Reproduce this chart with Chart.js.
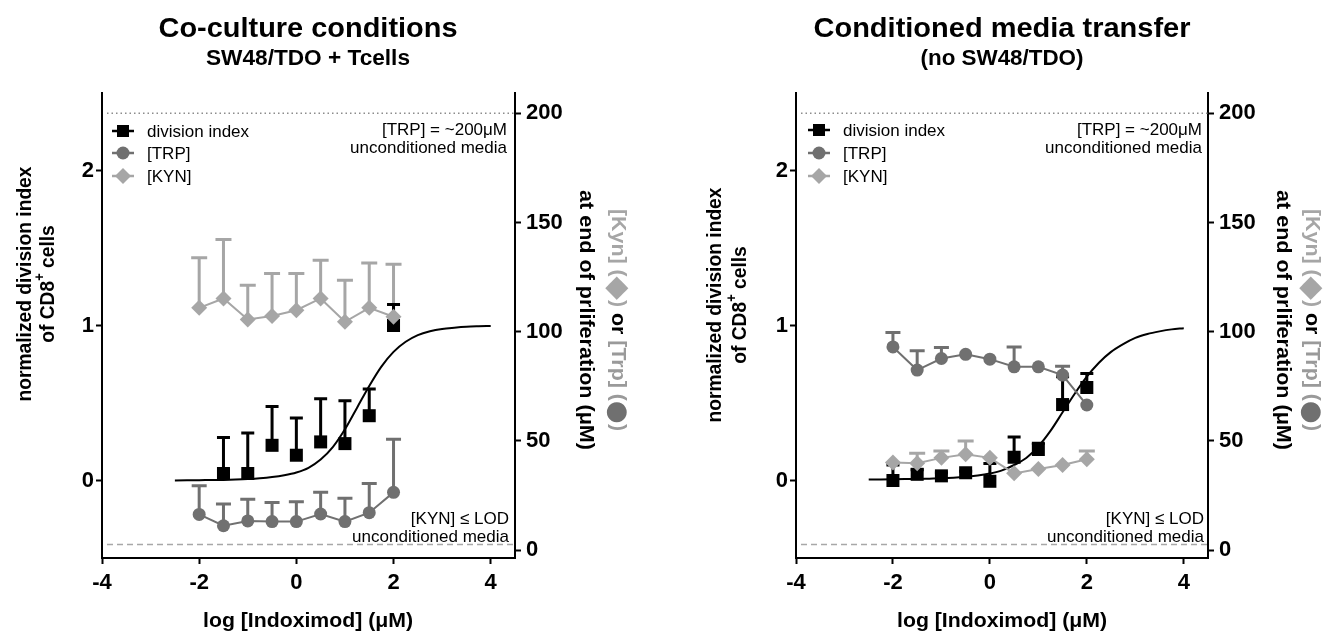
<!DOCTYPE html>
<html><head><meta charset="utf-8">
<script src="https://cdn.jsdelivr.net/npm/chart.js@4.4.1/dist/chart.umd.min.js"></script>
<style>
html,body{margin:0;padding:0;background:#fff;width:1325px;height:638px;overflow:hidden}
canvas{position:absolute;top:0}
</style></head><body>
<canvas id="c1" width="662" height="638" style="left:0;width:662px;height:638px"></canvas>
<canvas id="c2" width="663" height="638" style="left:662px;width:663px;height:638px"></canvas>
<script>
// ---------- DATA ----------
const xDoses = [-2, -1.5, -1, -0.5, 0, 0.5, 1, 1.5, 2];   // log [Indoximod] (uM)
const xTicks = [-4, -2, 0, 2, 4];
const yLeftTicks = [0, 1, 2];
const yRightTicks = [0, 50, 100, 150, 200];
const TRP_UNCONDITIONED = 200;   // uM, dotted reference line
const KYN_LOD = 2.5;             // uM, dashed reference line

// Co-culture conditions (SW48/TDO + Tcells)
const coDiv      = [null, 0.045, 0.045, 0.227, 0.163, 0.249, 0.238, 0.418, 1.0];
const coDivTop   = [null, 0.278, 0.307, 0.478, 0.403, 0.527, 0.514, 0.590, 1.136];
const coTrp      = [16.3, 11.1, 13.3, 13.0, 13.0, 16.5, 13.0, 17.1, 26.4];
const coTrpTop   = [29.4, 21.1, 23.2, 21.8, 22.1, 26.4, 23.7, 30.5, 50.7];
const coKyn      = [110.9, 115.2, 105.6, 107.2, 109.8, 115.2, 104.5, 110.9, 106.8];
const coKynTop   = [133.8, 142.2, 121.3, 126.6, 126.6, 132.7, 123.6, 131.5, 130.9];

// Conditioned media transfer (no SW48/TDO)
const cmDiv      = [0.0, 0.04, 0.03, 0.05, -0.005, 0.15, 0.20, 0.49, 0.60];
const cmDivTop   = [0.10, 0.07, 0.05, 0.06, 0.11, 0.28, 0.24, 0.67, 0.69];
const cmTrp      = [93.0, 82.4, 87.7, 89.6, 87.4, 83.9, 83.9, 80.1, 66.4];
const cmTrpTop   = [99.6, 91.2, 92.8, null, null, 93.0, null, 84.2, null];
const cmKyn      = [40.1, 39.7, 42.2, 43.9, 42.2, 35.1, 37.1, 38.9, 41.6];
const cmKynTop   = [null, 44.3, 45.4, 49.9, null, null, null, null, 45.4];

// fitted dose-response curves
const fitX  = [-2.5, -2.25, -2, -1.75, -1.5, -1.25, -1, -0.75, -0.5, -0.25, 0, 0.25, 0.5, 0.75, 1, 1.25, 1.5, 1.75, 2, 2.25, 2.5, 2.75, 3, 3.25, 3.5, 3.75, 4];
const coFit = [0.000, 0.001, 0.002, 0.003, 0.004, 0.006, 0.009, 0.014, 0.022, 0.034, 0.052, 0.082, 0.135, 0.215, 0.33, 0.47, 0.61, 0.735, 0.83, 0.895, 0.938, 0.963, 0.978, 0.986, 0.992, 0.995, 0.997];
const cmFit = [0.006, 0.007, 0.008, 0.009, 0.010, 0.012, 0.014, 0.018, 0.024, 0.032, 0.045, 0.065, 0.100, 0.145, 0.22, 0.32, 0.44, 0.56, 0.67, 0.76, 0.83, 0.88, 0.92, 0.945, 0.962, 0.975, 0.983];

// ---------- STYLE ----------
const F = '"Liberation Sans", Arial, Helvetica, sans-serif';
const C_DIV = '#000000', C_TRP = '#707070', C_KYN = '#a6a6a6';

function drawText(ctx, s, x, y, o) {
  ctx.save();
  ctx.font = o.font; ctx.fillStyle = o.color || '#000';
  ctx.textBaseline = o.baseline || 'alphabetic'; ctx.textAlign = 'left';
  const w = ctx.measureText(s).width;
  const sx = o.width ? o.width / w : 1;
  ctx.translate(x, y); ctx.scale(sx, 1);
  const a = o.align || 'left';
  ctx.fillText(s, a === 'center' ? -w / 2 : a === 'right' ? -w : 0, 0);
  ctx.restore();
}
// draws a rotated line made of styled segments, centred on (x,y); returns horizontal scale used
function drawRotSegs(ctx, segs, x, y, angle, width, scale) {
  ctx.save();
  ctx.textBaseline = 'middle'; ctx.textAlign = 'left';
  const ws = segs.map(s => { ctx.font = s.font; return ctx.measureText(s.t).width; });
  const total = ws.reduce((a, b) => a + b, 0);
  const sx = scale || (width ? width / total : 1);
  ctx.translate(x, y); ctx.rotate(angle); ctx.scale(sx, 1);
  let cx = -total / 2;
  segs.forEach((s, i) => { ctx.font = s.font; ctx.fillStyle = s.color || '#000'; ctx.fillText(s.t, cx, s.dy || 0); cx += ws[i]; });
  ctx.restore();
  return sx;
}
function marker(ctx, shape, x, y, r, color) {
  ctx.fillStyle = color; ctx.beginPath();
  if (shape === 'rect') ctx.rect(x - r, y - r, 2 * r, 2 * r);
  else if (shape === 'circle') ctx.arc(x, y, r, 0, Math.PI * 2);
  else { ctx.moveTo(x, y - r); ctx.lineTo(x + r, y); ctx.lineTo(x, y + r); ctx.lineTo(x - r, y); ctx.closePath(); }
  ctx.fill();
}
function drawErr(chart, vals, tops, axisId, color, cap) {
  const ctx = chart.ctx, xs = chart.scales.x, ys = chart.scales[axisId];
  ctx.save(); ctx.strokeStyle = color; ctx.lineWidth = 3; ctx.lineCap = 'butt';
  xDoses.forEach((xv, i) => {
    const v = vals[i], t = tops[i];
    if (v == null || t == null || t <= v) return;
    const px = xs.getPixelForValue(xv), p0 = ys.getPixelForValue(v), p1 = ys.getPixelForValue(t);
    ctx.beginPath();
    ctx.moveTo(px, p0); ctx.lineTo(px, p1 - 1.5);
    ctx.moveTo(px - cap / 2, p1); ctx.lineTo(px + cap / 2, p1);
    ctx.stroke();
  });
  ctx.restore();
}

function panelPlugin(P) {
  return {
    id: 'panelDeco',
    beforeDatasetsDraw(chart) {
      const ctx = chart.ctx, a = chart.chartArea, y2 = chart.scales.y2;
      ctx.save();
      ctx.lineWidth = 1.5;
      ctx.strokeStyle = '#8c8c8c'; ctx.setLineDash([1.5, 3]);
      let py = y2.getPixelForValue(TRP_UNCONDITIONED);
      ctx.beginPath(); ctx.moveTo(a.left + 5, py); ctx.lineTo(a.right, py); ctx.stroke();
      ctx.strokeStyle = '#a8a8a8'; ctx.setLineDash([6, 4]);
      py = y2.getPixelForValue(KYN_LOD);
      ctx.beginPath(); ctx.moveTo(a.left + 5, py); ctx.lineTo(a.right, py); ctx.stroke();
      ctx.restore();
      drawErr(chart, P.kyn, P.kynTop, 'y2', C_KYN, 16);
      drawErr(chart, P.trp, P.trpTop, 'y2', C_TRP, 15);
      drawErr(chart, P.div, P.divTop, 'y', C_DIV, 13);
    },
    afterDraw(chart) {
      const ctx = chart.ctx, o = P.off;
      // titles
      drawText(ctx, P.title, P.cx - o, 37, { font: 'bold 27px ' + F, align: 'center', width: P.titleW });
      drawText(ctx, P.sub, P.cx - o, 65, { font: 'bold 22px ' + F, align: 'center', width: P.subW });
      drawText(ctx, 'log [Indoximod] (μM)', P.cx - o, 627, { font: 'bold 21px ' + F, align: 'center', width: 210 });
      // left y title
      const s1 = drawRotSegs(ctx, [{ t: 'normalized division index', font: 'bold 21px ' + F }], P.yT1 - o, P.yTC, -Math.PI / 2, 235);
      drawRotSegs(ctx, [
        { t: 'of CD8', font: 'bold 21px ' + F },
        { t: '+', font: 'bold 14px ' + F, dy: -8 },
        { t: ' cells', font: 'bold 21px ' + F }
      ], P.yT2 - o, P.yTC, -Math.PI / 2, null, s1);
      // right y title
      drawRotSegs(ctx, [
        { t: '[Kyn] (', font: 'bold 21px ' + F, color: C_KYN },
        { t: '◆', font: 'bold 30px "DejaVu Sans", ' + F, color: C_KYN, dy: 1 },
        { t: ')', font: 'bold 21px ' + F, color: C_KYN },
        { t: ' or ', font: 'bold 21px ' + F, color: '#000' },
        { t: '[Trp] (', font: 'bold 21px ' + F, color: '#9a9a9a' },
        { t: '●', font: 'bold 26px "DejaVu Sans", ' + F, color: C_TRP, dy: 1 },
        { t: ')', font: 'bold 21px ' + F, color: '#9a9a9a' }
      ], P.y2T1 - o, P.y2TC, Math.PI / 2, 222);
      drawRotSegs(ctx, [{ t: 'at end of prliferation (μM)', font: 'bold 21px ' + F }], P.y2T2 - o, P.y2TC, Math.PI / 2, 260);
      // annotations
      const af = '17px ' + F;
      drawText(ctx, '[TRP] = ~200μM', P.annR - o, 135, { font: af, align: 'right' });
      drawText(ctx, 'unconditioned media', P.annR - o, 153, { font: af, align: 'right' });
      drawText(ctx, '[KYN] ≤ LOD', P.annR2 - o, 524, { font: af, align: 'right' });
      drawText(ctx, 'unconditioned media', P.annR2 - o, 542, { font: af, align: 'right' });
      // legend
      const rows = [['division index', 'rect', C_DIV, 6], ['[TRP]', 'circle', C_TRP, 6.5], ['[KYN]', 'diamond', C_KYN, 8]];
      rows.forEach((r, i) => {
        const x = P.legX - o, y = P.legY[i];
        ctx.save();
        ctx.strokeStyle = r[2]; ctx.lineWidth = 2.5;
        ctx.beginPath(); ctx.moveTo(x - 11, y); ctx.lineTo(x + 11, y); ctx.stroke();
        marker(ctx, r[1], x, y, r[3], r[2]);
        ctx.restore();
        drawText(ctx, r[0], P.legTX - o, y + 1, { font: af, baseline: 'middle' });
      });
    }
  };
}

function makeChart(P) {
  const pts = ys => xDoses.map((x, i) => ({ x, y: ys[i] })).filter(p => p.y != null);
  const tickFont = { family: F, size: 22, weight: 'bold' };
  const grid = { drawOnChartArea: false, drawTicks: true, tickLength: 6, tickWidth: 2, color: '#000' };
  const border = { display: true, color: '#000', width: 2 };
  new Chart(document.getElementById(P.id), {
    type: 'line',
    data: {
      datasets: [
        { label: '[KYN]', data: pts(P.kyn), yAxisID: 'y2', borderColor: C_KYN, backgroundColor: C_KYN, borderWidth: 2,
          pointStyle: 'rectRot', pointRadius: 8, pointBorderWidth: 0, order: 0 },
        { label: '[TRP]', data: pts(P.trp), yAxisID: 'y2', borderColor: C_TRP, backgroundColor: C_TRP, borderWidth: 2,
          pointStyle: 'circle', pointRadius: 6.5, pointBorderWidth: 0, order: 1 },
        { label: 'division index', data: pts(P.div), yAxisID: 'y', showLine: false, borderColor: C_DIV, backgroundColor: C_DIV,
          pointStyle: 'rect', pointRadius: 9.2, pointBorderWidth: 0, order: 2 },
        { label: 'fit', data: fitX.map((x, i) => ({ x, y: P.fit[i] })), yAxisID: 'y', borderColor: '#000', borderWidth: 2,
          pointRadius: 0, cubicInterpolationMode: 'monotone', order: 3 }
      ]
    },
    options: {
      responsive: false, animation: false, events: [],
      layout: { padding: { top: 93, left: 0, right: 0, bottom: 0 } },
      plugins: { legend: { display: false }, tooltip: { enabled: false }, title: { display: false } },
      scales: {
        x: { type: 'linear', min: -4, max: 4.5,
          afterBuildTicks: s => { s.ticks = xTicks.map(v => ({ value: v })); },
          afterFit: s => { s.height = 80; },
          grid, border,
          ticks: { color: '#000', font: tickFont, padding: 6, maxRotation: 0, autoSkip: false } },
        y: { type: 'linear', position: 'left', min: -0.5, max: 2.5,
          afterBuildTicks: s => { s.ticks = yLeftTicks.map(v => ({ value: v })); },
          afterFit: s => { s.width = P.left - P.off; },
          grid, border,
          ticks: { color: '#000', font: tickFont, padding: 2, autoSkip: false } },
        y2: { type: 'linear', position: 'right', min: -3.66, max: 209.3,
          afterBuildTicks: s => { s.ticks = yRightTicks.map(v => ({ value: v })); },
          afterFit: s => { s.width = P.off + P.w - P.right; },
          grid, border,
          ticks: { color: '#000', font: tickFont, padding: 5, autoSkip: false } }
      }
    },
    plugins: [panelPlugin(P)]
  });
}

makeChart({ id: 'c1', off: 0, w: 662, left: 102, right: 515, cx: 308,
  title: 'Co-culture conditions', titleW: 299, sub: 'SW48/TDO + Tcells', subW: 204,
  yT1: 25, yT2: 48, yTC: 284, y2T1: 618, y2T2: 586, y2TC: 320,
  annR: 507, annR2: 509, legX: 123, legTX: 147, legY: [131, 153, 176],
  div: coDiv, divTop: coDivTop, trp: coTrp, trpTop: coTrpTop, kyn: coKyn, kynTop: coKynTop, fit: coFit });
makeChart({ id: 'c2', off: 662, w: 663, left: 796, right: 1208, cx: 1002,
  title: 'Conditioned media transfer', titleW: 377, sub: '(no SW48/TDO)', subW: 163,
  yT1: 715, yT2: 740, yTC: 305, y2T1: 1312, y2T2: 1283, y2TC: 320,
  annR: 1202, annR2: 1204, legX: 819, legTX: 843, legY: [130, 153, 176],
  div: cmDiv, divTop: cmDivTop, trp: cmTrp, trpTop: cmTrpTop, kyn: cmKyn, kynTop: cmKynTop, fit: cmFit });
</script></body></html>
